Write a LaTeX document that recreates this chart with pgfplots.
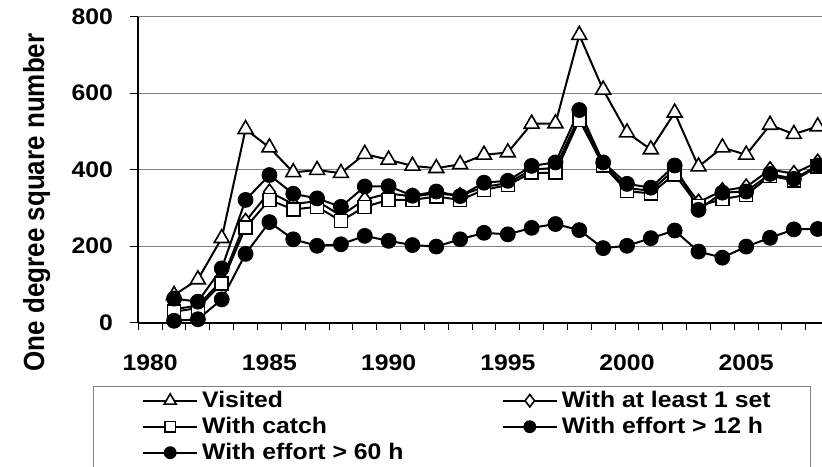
\documentclass[border=0pt]{standalone}
\usepackage{pgfplots}
\pgfplotsset{compat=1.18}
\usepackage{pgfplotstable}
\usepackage{fontspec}
\usepackage{graphicx}
\setmainfont{Liberation Sans}
\newfontfamily\lab[FakeStretch=1.1]{Liberation Sans}
\newcommand\labfont{\lab\bfseries\fontsize{22.5bp}{26bp}\selectfont}
\newcommand\ylfont{\bfseries\fontsize{26bp}{30bp}\selectfont}

\pgfplotstableread{
year visited set catch e12 e60
1981 72 35 29 63 5
1982 113 45 38 55 9
1983 221 110 103 142 61
1984 506 265 249 321 180
1985 458 342 321 386 263
1986 393 310 296 337 218
1987 399 318 303 325 201
1988 391 280 266 303 205
1989 441 322 303 356 227
1990 426 338 321 357 214
1991 410 330 321 332 203
1992 404 338 330 343 199
1993 414 332 321 331 218
1994 439 355 347 366 235
1995 445 365 360 371 231
1996 520 400 392 410 248
1997 521 405 392 419 258
1998 752 540 530 556 242
1999 609 415 411 419 195
2000 497 352 344 363 201
2001 453 345 338 353 221
2002 549 400 388 411 241
2003 408 315 305 295 186
2004 458 345 323 340 170
2005 439 355 334 343 199
2006 517 400 384 389 222
2007 493 390 372 376 244
2008 513 420 408 411 245
}\data

\begin{document}
\begin{tikzpicture}
\begin{axis}[
  name=ax, at={(0,0)}, anchor=south west,
  scale only axis, width=683.7bp, height=306bp,
  xmin=1979.5, xmax=2008.18, ymin=0, ymax=800,
  axis x line*=bottom, axis y line*=left,
  axis line style={line width=1.6bp, black, -},
  ytick={0,200,400,600,800},
  yticklabels={0,200,400,600,800},
  xtick={1980,1985,1990,1995,2000,2005},
  xticklabels={1980,1985,1990,1995,2000,2005},
  minor xtick={1979.5,1980.5,...,2008.5},
  tick align=inside,
  major tick length=-8bp, minor tick length=-7.5bp,
  major x tick style={draw=none},
  tick style={line width=1bp, black},
  minor x tick style={line width=1bp, black},
  ymajorgrids, grid style={line width=1.2bp, gray},
  /pgf/number format/assume math mode=true,
  ticklabel style={font=\labfont},
  yticklabel style={anchor=east, inner sep=0pt, xshift=-25.3bp},
  xticklabel style={anchor=north, inner sep=0pt, yshift=-31.5bp},
  ylabel={\scalebox{1}[1.12]{One degree square number}},
  ylabel style={font=\ylfont, at={(axis description cs:-0.1284,0.3928)}, anchor=south, inner sep=0pt},
  legend columns=2,
  legend cell align=left,
  legend style={at={(axis description cs:-0.0667,-0.2059)}, anchor=north west,
    draw=gray, line width=1bp, inner xsep=49bp, inner ysep=1.5bp,
    column sep=0pt, row sep=0pt,
    nodes={inner sep=0pt, text height=20bp, text depth=6bp, font=\labfont}},
  legend image code/.code={\draw[mark repeat=2, mark phase=2, #1, /tikz/every mark/.append style={scale=0.8}] plot coordinates {(0bp,0bp) (27bp,0bp) (54bp,0bp)};},
]
\addplot[black, line width=2bp, mark=triangle*, mark size=8.6bp, mark options={fill=white, draw=black, line width=1.6bp}] table[x=year, y=visited]{\data};
\addlegendentry{\hspace*{4bp}\makebox[299.6bp][l]{Visited}}
\addplot[black, line width=2bp, mark=diamond*, mark size=7.8bp, mark options={fill=white, draw=black, line width=1.6bp}] table[x=year, y=set]{\data};
\addlegendentry{\hspace*{4bp}\makebox[199.7bp][l]{With at least 1 set}}
\addplot[black, line width=2bp, mark=square*, mark size=6.5bp, mark options={fill=white, draw=black, line width=1.6bp}] table[x=year, y=catch]{\data};
\addlegendentry{\hspace*{4bp}\makebox[299.6bp][l]{With catch}}
\addplot[black, line width=2bp, mark=*, mark size=7.4bp, mark options={fill=black, draw=black, line width=1bp}] table[x=year, y=e12]{\data};
\addlegendentry{\hspace*{4bp}\makebox[199.7bp][l]{With effort > 12 h}}
\addplot[black, line width=2bp, mark=*, mark size=7.4bp, mark options={fill=black, draw=black, line width=1bp}] table[x=year, y=e60]{\data};
\addlegendentry{\hspace*{4bp}\makebox[299.6bp][l]{With effort > 60 h}}
\end{axis}
\pgfresetboundingbox
\useasboundingbox (-138.3bp,-144.3bp) rectangle (683.7bp,322.7bp);
\end{tikzpicture}
\end{document}
